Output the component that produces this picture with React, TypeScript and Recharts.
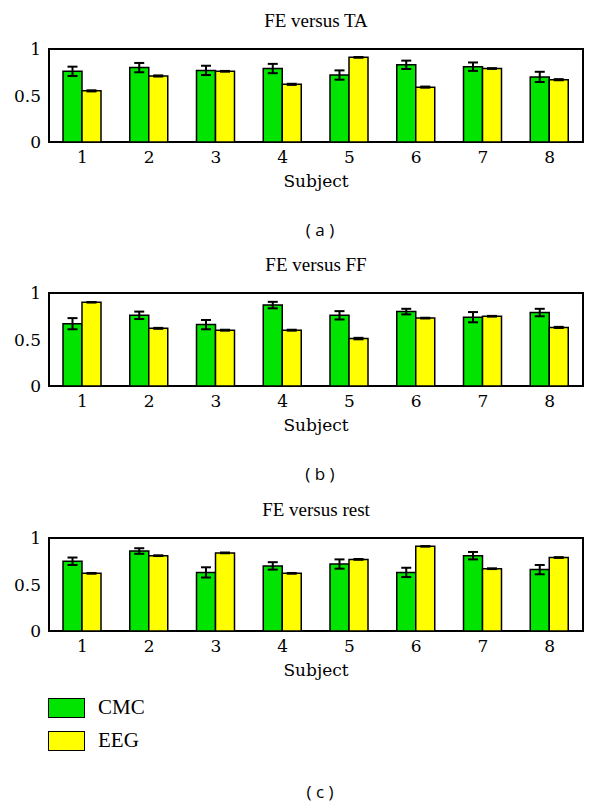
import React from "react";
import { BarChart, Bar, XAxis, YAxis, ErrorBar, ReferenceArea, Legend, Label } from "recharts";

const subjects = ["1", "2", "3", "4", "5", "6", "7", "8"];

// (a) FE versus TA
const taCmc = [0.76, 0.8, 0.77, 0.79, 0.72, 0.83, 0.81, 0.7];
const taCmcErr = [0.05, 0.05, 0.05, 0.05, 0.05, 0.045, 0.045, 0.055];
const taEeg = [0.55, 0.71, 0.76, 0.62, 0.91, 0.59, 0.79, 0.67];
const taEegErr = [0.006, 0.006, 0.004, 0.006, 0.004, 0.006, 0.004, 0.006];

// (b) FE versus FF
const ffCmc = [0.67, 0.76, 0.66, 0.87, 0.76, 0.8, 0.74, 0.79];
const ffCmcErr = [0.06, 0.04, 0.05, 0.035, 0.045, 0.03, 0.055, 0.04];
const ffEeg = [0.9, 0.62, 0.6, 0.6, 0.51, 0.73, 0.75, 0.63];
const ffEegErr = [0.003, 0.005, 0.005, 0.005, 0.008, 0.004, 0.004, 0.006];

// (c) FE versus rest
const restCmc = [0.75, 0.86, 0.63, 0.7, 0.72, 0.63, 0.81, 0.66];
const restCmcErr = [0.04, 0.03, 0.055, 0.04, 0.05, 0.05, 0.04, 0.05];
const restEeg = [0.62, 0.81, 0.84, 0.62, 0.77, 0.91, 0.67, 0.79];
const restEegErr = [0.004, 0.004, 0.004, 0.004, 0.004, 0.003, 0.004, 0.004];

const yTicks = [0, 0.5, 1];

const GREEN = "#00e400";
const YELLOW = "#ffff00";
const SERIF = "'Liberation Serif', 'DejaVu Serif', serif";
const SVG_SERIF = "DejaVu Serif";

interface PanelProps {
  title: string;
  caption: string;
  cmc: number[];
  cmcErr: number[];
  eeg: number[];
  eegErr: number[];
  top: number;
  legend?: boolean;
}

function XTick({ x, y, payload }: { x?: number; y?: number; payload?: { value: string } }) {
  return (
    <text x={x} y={y} dy="0.75em" textAnchor="middle" fill="#000" fontFamily={SVG_SERIF} fontSize={17}>
      {payload?.value}
    </text>
  );
}

function YTick({ x, y, payload }: { x?: number; y?: number; payload?: { value: number } }) {
  return (
    <text x={x} y={y} dy="0.355em" textAnchor="end" fill="#000" fontFamily={SVG_SERIF} fontSize={17}>
      {String(payload?.value)}
    </text>
  );
}

function SubjectLabel({ viewBox }: { viewBox?: { x: number; y: number; width: number; height: number } }) {
  if (!viewBox) return null;
  return (
    <text
      x={viewBox.x + viewBox.width / 2}
      y={viewBox.y + viewBox.height - 5}
      textAnchor="middle"
      fill="#000"
      fontFamily={SVG_SERIF}
      fontSize={17}
    >
      Subject
    </text>
  );
}

function LegendBox({ payload }: { payload?: Array<{ value: string; color: string }> }) {
  return (
    <div>
      {(payload || []).map((p) => (
        <div key={p.value} style={{ display: "flex", alignItems: "center", height: 33 }}>
          <div
            style={{
              width: 35,
              height: 18,
              background: p.color,
              border: "1.5px solid #000",
              marginRight: 13,
            }}
          />
          <span style={{ fontFamily: SERIF, fontSize: 21, color: "#000" }}>{p.value}</span>
        </div>
      ))}
    </div>
  );
}

function Panel({ title, caption, cmc, cmcErr, eeg, eegErr, top, legend }: PanelProps) {
  const data = subjects.map((s, i) => ({
    subject: s,
    cmc: cmc[i],
    cmcErr: cmcErr[i],
    eeg: eeg[i],
    eegErr: eegErr[i],
  }));
  const chartHeight = legend ? 290 : 200;
  return (
    <div style={{ position: "absolute", left: 0, top, width: 600 }}>
      <div
        style={{
          position: "absolute",
          left: 49,
          width: 534,
          top: 10,
          textAlign: "center",
          fontFamily: SERIF,
          fontSize: 19,
          lineHeight: "22px",
        }}
      >
        {title}
      </div>
      <BarChart
        width={600}
        height={chartHeight}
        data={data}
        margin={{ top: 49, right: 17, bottom: chartHeight - 49 - 93 - 50, left: 0 }}
        barGap={0}
        barSize={19}
      >
        <XAxis dataKey="subject" height={50} axisLine={false} tickLine={false} tick={<XTick />}>
          <Label position="insideBottom" content={<SubjectLabel />} />
        </XAxis>
        <YAxis width={49} domain={[0, 1]} ticks={yTicks} axisLine={false} tickLine={false} tick={<YTick />} />
        <ReferenceArea y1={0} y2={1} fill="none" stroke="#000" strokeWidth={2} ifOverflow="visible" />
        <Bar dataKey="cmc" name="CMC" fill={GREEN} stroke="#000" strokeWidth={1.5} isAnimationActive={false}>
          <ErrorBar dataKey="cmcErr" width={5} stroke="#000" strokeWidth={2} direction="y" />
        </Bar>
        <Bar dataKey="eeg" name="EEG" fill={YELLOW} stroke="#000" strokeWidth={1.5} isAnimationActive={false}>
          <ErrorBar dataKey="eegErr" width={5} stroke="#000" strokeWidth={2} direction="y" />
        </Bar>
        {legend && (
          <Legend
            layout="vertical"
            align="center"
            verticalAlign="middle"
            content={<LegendBox />}
            wrapperStyle={{ position: "absolute", top: 202, left: 48, width: 200 }}
          />
        )}
      </BarChart>
      <div
        style={{
          position: "absolute",
          left: 0,
          width: 640,
          top: legend ? 293 : 220,
          textAlign: "center",
          fontFamily: "'Open Sans', 'DejaVu Sans', sans-serif",
          fontSize: 17,
          lineHeight: "20px",
        }}
      >
        {caption}
      </div>
    </div>
  );
}

export default function App() {
  return (
    <div style={{ position: "absolute", left: 0, top: 0, width: 600, height: 807, background: "#fff" }}>
      <Panel title="FE versus TA" caption="( a )" cmc={taCmc} cmcErr={taCmcErr} eeg={taEeg} eegErr={taEegErr} top={0} />
      <Panel title="FE versus FF" caption="( b )" cmc={ffCmc} cmcErr={ffCmcErr} eeg={ffEeg} eegErr={ffEegErr} top={244} />
      <Panel
        title="FE versus rest"
        caption="( c )"
        cmc={restCmc}
        cmcErr={restCmcErr}
        eeg={restEeg}
        eegErr={restEegErr}
        top={489}
        legend
      />
    </div>
  );
}
